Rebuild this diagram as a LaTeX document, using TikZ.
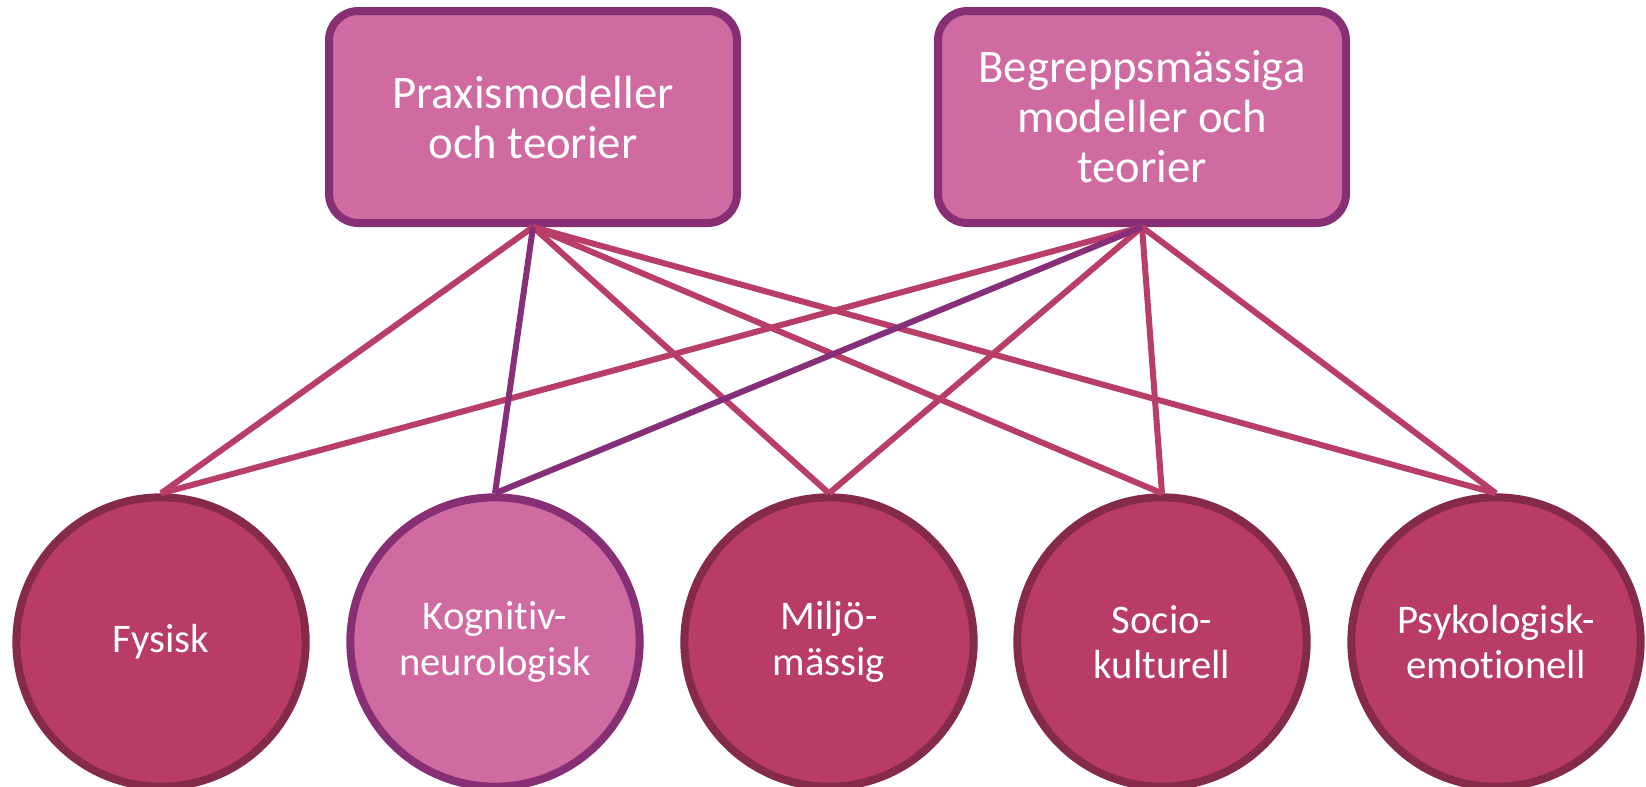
\documentclass[tikz,border=0pt]{standalone}
\usepackage{fontspec}
\setmainfont[Ligatures=NoCommon]{Carlito}
\definecolor{boxfill}{RGB}{207,107,161}
\definecolor{boxdraw}{RGB}{135,47,116}
\definecolor{ringfill}{RGB}{184,60,103}
\definecolor{ringdraw}{RGB}{134,42,74}
\definecolor{linkpink}{RGB}{184,61,104}
\definecolor{linkpurple}{RGB}{134,47,120}
\tikzset{every picture/.style={line width=0.75pt}}
\tikzset{
	modelbox/.style={draw=boxdraw, fill=boxfill, line width=6pt, rounded corners=22pt,
		minimum width=306pt, minimum height=159pt, text=white, align=center,
		font=\fontsize{35}{37.5}\selectfont},
	areaball/.style={circle, draw=ringdraw, fill=ringfill, line width=6pt,
		minimum size=217pt, inner sep=0pt, text=white, align=center,
		font=\fontsize{30.5}{34}\selectfont},
	areaball light/.style={areaball, draw=boxdraw, fill=boxfill},
	link/.style={draw=linkpink, line width=4.5pt},
	link purple/.style={link, draw=linkpurple}}

\begin{document}
\begin{tikzpicture}[x=0.75pt,y=0.75pt,yscale=-1,xscale=1]
	\useasboundingbox (0,0) rectangle (1646,786);

	%Shape: Rounded Rect
	\node [modelbox] (praxis) at (533,117) {Praxismodeller\\och teorier};
	%Shape: Rounded Rect
	\node [modelbox] (begrepp) at (1142,117) {Begreppsmässiga\\modeller och\\teorier};

	%Shape: Circle
	\node [areaball] (fysisk) at (161,642) {Fysisk};
	%Shape: Circle
	\node [areaball light] (kognitiv) at (495,642) {Kognitiv-\\neurologisk};
	%Shape: Circle
	\node [areaball] (miljo) at (829,642) {Miljö-\\mässig};
	%Shape: Circle
	\node [areaball] (socio) at (1162,642) {Socio-\\kulturell};
	%Shape: Circle
	\node [areaball] (psyk) at (1496,642) {Psykologisk-\\emotionell};

	%Straight Lines
	\draw [link] (praxis.south) -- (fysisk.north);
	\draw [link] (praxis.south) -- (miljo.north);
	\draw [link] (praxis.south) -- (socio.north);
	\draw [link] (praxis.south) -- (psyk.north);
	\draw [link] (begrepp.south) -- (fysisk.north);
	\draw [link] (begrepp.south) -- (miljo.north);
	\draw [link] (begrepp.south) -- (socio.north);
	\draw [link] (begrepp.south) -- (psyk.north);
	\draw [link purple] (praxis.south) -- (kognitiv.north);
	\draw [link purple] (begrepp.south) -- (kognitiv.north);

\end{tikzpicture}
\end{document}
